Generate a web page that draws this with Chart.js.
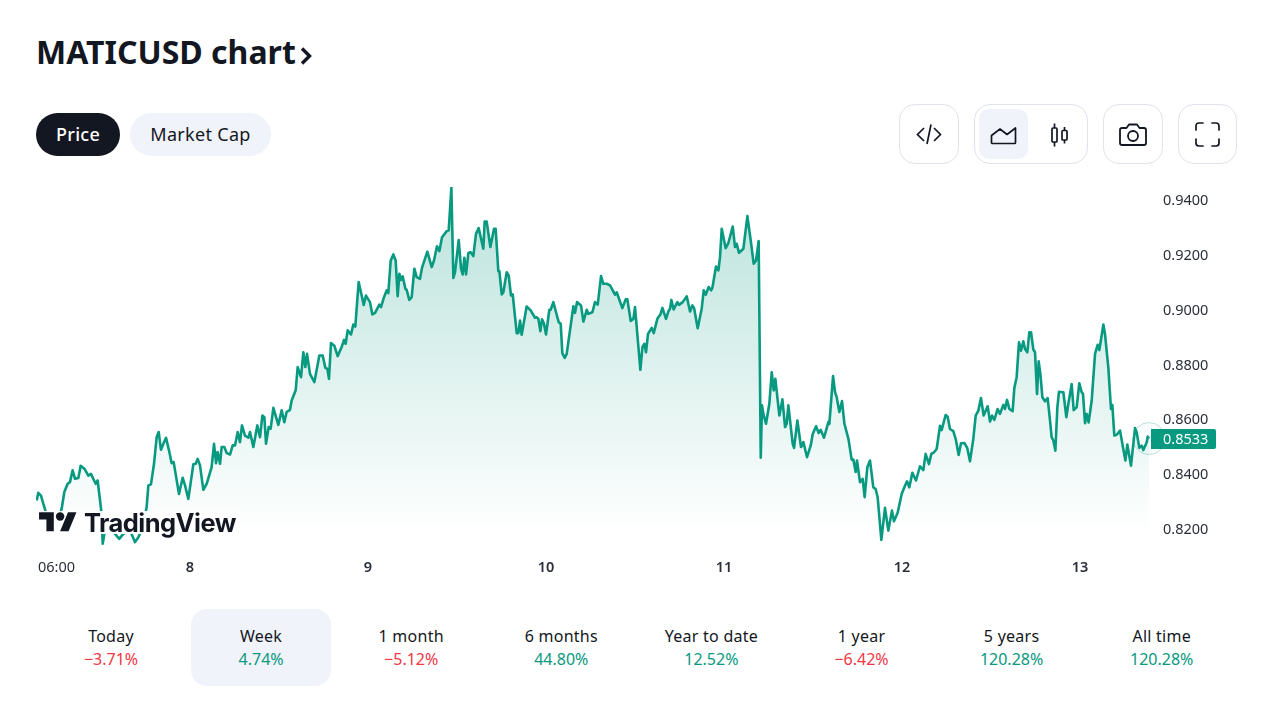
<!DOCTYPE html>
<html><head><meta charset="utf-8">
<script src="https://cdn.jsdelivr.net/npm/chart.js@4/dist/chart.umd.min.js"></script>
<style>
html,body{margin:0;padding:0;background:#fff;width:1280px;height:720px;overflow:hidden;font-family:"Noto Sans",sans-serif;color:#131722}
.a{position:absolute}
h1{position:absolute;left:36px;top:29px;margin:0;font:700 32px/46px "Noto Sans",sans-serif;letter-spacing:0;white-space:nowrap}
.pill{position:absolute;top:113px;height:43px;border-radius:22px;font-size:18px;line-height:43px;text-align:center;letter-spacing:.3px}
.ib{position:absolute;top:104px;height:58px;border:1px solid #e0e3eb;border-radius:16px;box-sizing:content-box;background:#fff}
svg{position:absolute;overflow:visible}
.cell{position:absolute;top:609px;width:140px;height:77px;text-align:center;border-radius:16px;font-size:16px}
.cell .l{position:absolute;left:-10px;right:-10px;top:15px;line-height:24px;letter-spacing:.25px}
.cell .v{position:absolute;left:0;right:0;top:38px;line-height:24px}
.up{color:#089981}.dn{color:#f23645}
#logo{position:absolute;left:37px;top:511px;width:201px;height:23px;background:rgba(255,255,255,.95)}
#logot{position:absolute;left:47px;top:-3px;font:700 25.5px/30px Inter,sans-serif;letter-spacing:-.55px;color:#131722}
canvas{position:absolute;left:0;top:170px}
</style></head><body>
<h1>MATICUSD chart</h1>
<svg style="left:299px;top:46px" width="14" height="20"><path d="M3 2.5 L10.5 10 L3 17.5" fill="none" stroke="#131722" stroke-width="3.4"/></svg>
<div class="pill" style="left:36px;width:84px;background:#131722;color:#fff;font-weight:500">Price</div>
<div class="pill" style="left:130px;width:141px;background:#f0f3fa">Market Cap</div>

<div class="ib" style="left:899px;width:58px"></div>
<svg style="left:916px;top:122px" width="26" height="24" fill="none" stroke="#131722" stroke-width="1.7"><path d="M8 6 L1.5 12.5 L8 19M18 6 L24.5 12.5 L18 19M15 2.5 L11 22"/></svg>
<div class="ib" style="left:974px;width:112px"></div>
<div class="a" style="left:979px;top:109px;width:49px;height:50px;border-radius:10px;background:#f0f3fa"></div>
<svg style="left:990px;top:126px" width="28" height="20" fill="none" stroke="#131722" stroke-width="1.7" stroke-linejoin="round"><path d="M1.5 16.5 V9.5 L10 3 L17 8.5 L25.5 2 V16.5 Q25.5 17.5 24.5 17.5 H2.5 Q1.5 17.5 1.5 16.5Z"/></svg>
<svg style="left:1050px;top:122px" width="20" height="26" fill="none" stroke="#131722" stroke-width="1.7"><rect x="2" y="6" width="5" height="14" rx="1"/><path d="M4.5 1.5V6M4.5 20V24.5M14.5 5V8.5M14.5 18V21.5"/><rect x="12" y="8.5" width="5" height="9.5" rx="1"/></svg>
<div class="ib" style="left:1103px;width:58px"></div>
<svg style="left:1118px;top:123px" width="30" height="24" fill="none" stroke="#131722" stroke-width="1.8" stroke-linejoin="round"><path d="M2 7 Q2 5 4 5 H8.5 L11 1.5 H19 L21.5 5 H26 Q28 5 28 7 V20 Q28 22 26 22 H4 Q2 22 2 20Z"/><circle cx="15" cy="13" r="5"/></svg>
<div class="ib" style="left:1178px;width:57px"></div>
<svg style="left:1195px;top:122px" width="26" height="26" fill="none" stroke="#131722" stroke-width="1.7" stroke-linecap="round"><path d="M1 8 V4 Q1 1 4 1 H8M17 1 H21 Q24 1 24 4 V8M1 17 V21 Q1 24 4 24 H8M17 24 H21 Q24 24 24 21 V17"/></svg>

<canvas id="c" width="1280" height="420" style="width:1280px;height:420px"></canvas>
<div id="logo"><svg style="left:1px;top:-3.5px" width="40" height="29.5" viewBox="0 0 36 28"><path fill="#131722" d="M14 22H7V11H0V4h14v18zM28 22h-8l7.5-18h8L28 22z"/><circle fill="#131722" cx="20" cy="8" r="4"/></svg><div id="logot">TradingView</div></div>
<div id="cells"></div>
<script>
const hours=[-20.67,-20.45,-20.09,-19.77,-19.5,-18.87,-17.75,-17.3,-16.94,-16.49,-16.18,-15.82,-15.5,-15.05,-14.74,-14.24,-13.7,-13.35,-12.72,-12.45,-11.91,-11.77,-11.46,-10.8,-10.11,-9.53,-8.99,-8.09,-7.41,-6.96,-6.38,-5.84,-5.61,-5.26,-4.85,-4.49,-4.22,-3.91,-3.59,-3.23,-2.83,-2.47,-2.2,-1.48,-0.99,-0.67,-0.22,0.45,0.77,1.04,1.35,1.8,2.25,2.92,3.24,3.51,3.73,4.05,4.27,4.63,4.95,5.4,5.76,6.07,6.43,6.74,7.01,7.42,7.87,8.09,8.54,9.08,9.44,9.76,10.03,10.25,10.61,10.88,11.24,11.91,12.36,12.72,13.03,13.48,13.71,14.25,14.52,14.97,15.28,15.55,15.78,16.18,16.77,17.44,17.89,18.25,18.52,18.74,19.01,19.46,19.91,20.45,20.77,20.99,21.26,21.71,22.02,22.29,22.47,22.74,23.15,23.42,23.73,24.27,24.59,24.95,25.53,25.75,26.16,26.52,26.74,27.06,27.42,27.73,28,28.23,28.45,28.68,29.04,29.21,29.57,29.89,30.25,30.56,31.01,31.28,32,32.59,32.9,33.3,33.62,33.98,34.61,34.88,35.24,35.51,35.73,36.23,36.54,36.77,36.99,37.22,37.53,37.85,38.2,38.56,38.92,39.55,39.73,40,40.5,40.99,41.21,41.57,41.71,42.03,42.25,42.7,42.97,43.28,43.51,44.05,44.27,44.5,44.72,45.39,45.93,46.52,46.74,46.97,47.24,47.46,47.73,48,48.45,48.63,48.99,49.35,49.71,49.98,50.2,50.52,50.79,51.69,51.91,52.18,52.72,53.04,53.49,53.71,54.25,54.61,54.97,55.42,55.73,56.18,56.63,57.3,57.53,58.29,58.74,58.97,59.42,59.78,60,60.72,61,61.26,61.48,61.75,62.25,62.52,63.01,63.46,63.69,64.18,64.5,64.72,64.9,65.21,65.71,65.93,66.43,66.97,67.42,67.73,67.96,68.45,68.99,69.26,69.53,69.93,70.25,70.43,70.92,71.24,71.46,71.69,72.22,72.58,73.17,73.48,73.71,74.02,74.61,75.15,75.6,76,76.32,76.67,76.95,77.12,77.3,77.66,78.11,78.43,78.7,78.92,79.46,79.87,80.23,80.45,80.67,81.26,81.44,81.89,82.38,82.7,83.19,83.69,83.96,84.41,84.76,85.03,85.48,86.07,86.2,86.7,86.97,87.19,87.55,87.91,88.23,88.77,89.21,89.44,89.75,89.93,90.33,90.69,90.96,91.32,91.68,92.13,92.44,92.71,93.21,93.7,94.15,94.64,94.91,95.41,95.95,96.4,96.67,96.98,97.39,97.88,98.42,98.87,99.18,99.63,99.95,100.31,100.67,101.12,101.34,101.88,102.15,102.46,102.91,103.23,103.63,103.95,104.4,104.8,105.16,105.61,105.93,106.29,106.64,107,107.54,107.86,108.13,108.44,108.89,109.2,109.66,109.88,110.15,110.47,110.91,111.14,111.45,111.77,112.04,112.35,112.58,112.89,113.16,113.39,113.7,113.93,114.2,114.42,114.65,114.92,115.27,115.63,115.95,116.17,116.4,116.67,116.94,117.16,117.75,118.15,118.42,118.87,119.14,119.54,119.9,120.22,120.4,120.67,120.89,121.16,121.57,122.02,122.37,122.6,123.14,123.36,123.81,124.17,124.35,124.62,124.94,125.39,125.75,126.11,126.37,126.87,127.41,127.63,127.99,128.31,128.53,128.98,129.12,129.3];
const prices=[.8307,.8335,.8325,.8295,.8271,.8222,.8234,.8277,.8338,.8368,.8374,.8417,.8386,.8389,.8434,.8423,.8398,.8404,.8368,.838,.8258,.8149,.8198,.8204,.8185,.8167,.8185,.8198,.8155,.8173,.821,.8283,.8362,.8366,.8441,.8538,.8557,.8492,.8514,.8536,.849,.8443,.8447,.8331,.839,.8362,.8313,.8439,.8441,.8459,.8435,.8346,.8368,.8429,.8514,.8443,.8484,.8441,.8502,.8502,.848,.8475,.8508,.8508,.8557,.852,.8581,.8544,.8536,.8557,.8502,.8581,.8538,.8617,.8611,.8514,.8575,.8569,.8645,.8583,.8636,.8593,.863,.8638,.8672,.8709,.8794,.8757,.8848,.8794,.8842,.8769,.8739,.8836,.8836,.8791,.8788,.8751,.8882,.8872,.8834,.8867,.8893,.8879,.8928,.8913,.8949,.8942,.9007,.9104,.9055,.9021,.9055,.9031,.8986,.8992,.9022,.9013,.9049,.9074,.9064,.9183,.9205,.9183,.9053,.9134,.9112,.9125,.908,.9076,.9039,.9049,.9153,.9122,.9116,.9156,.9215,.9159,.9183,.9235,.9217,.9268,.929,.9293,.9448,.9119,.914,.9258,.9153,.9132,.9193,.9132,.921,.9213,.9199,.928,.9301,.9226,.9325,.9325,.9232,.9299,.9299,.9144,.9144,.9059,.9067,.914,.9128,.9055,.9059,.8918,.8918,.8964,.8912,.9015,.9001,.8974,.8976,.897,.8925,.8968,.8952,.8913,.9003,.9003,.9031,.8994,.8958,.8952,.8845,.8827,.8842,.9016,.8992,.9031,.9019,.896,.9003,.8988,.8994,.9031,.9022,.9126,.9098,.9098,.9092,.9058,.9067,.9009,.9041,.9041,.8962,.897,.9013,.8784,.8867,.8879,.8848,.8915,.8937,.8918,.897,.8988,.901,.897,.8997,.9007,.9039,.9004,.9031,.9021,.9031,.9052,.8997,.9019,.901,.8936,.9007,.9074,.9058,.9086,.9074,.9083,.9161,.9147,.9195,.9299,.9228,.9246,.9307,.9232,.9244,.9211,.9226,.9345,.9256,.9171,.9183,.9254,.8463,.8654,.8623,.8587,.866,.8775,.8709,.8751,.8617,.8676,.8575,.8587,.8654,.8514,.8499,.8599,.8502,.852,.8465,.8508,.855,.8578,.8553,.8565,.8536,.8593,.8587,.8761,.8702,.8684,.863,.867,.8587,.8532,.8456,.8456,.8411,.8453,.8374,.8386,.8319,.8428,.8453,.8355,.8349,.8319,.8163,.828,.8197,.827,.8231,.8262,.8331,.8361,.8377,.8355,.8408,.838,.8432,.8418,.8477,.844,.8477,.8483,.8495,.858,.8564,.8619,.8613,.8568,.856,.8532,.8473,.8516,.8517,.8498,.845,.8532,.8617,.8635,.8681,.8617,.8651,.8595,.8617,.8601,.8641,.8623,.8656,.8641,.8674,.8641,.8633,.8718,.8757,.8884,.8854,.8888,.886,.8848,.8921,.8921,.8858,.8848,.8696,.8815,.8769,.8684,.8669,.8681,.8599,.8538,.8526,.8489,.8647,.8704,.8702,.8611,.8659,.8732,.8637,.8647,.8735,.8702,.8696,.8589,.8623,.8592,.8672,.8842,.8875,.8856,.8949,.8915,.8793,.8641,.8656,.8544,.8547,.8562,.8507,.8453,.8511,.8434,.8571,.8556,.8499,.8507,.8491,.8519,.854,.8533];
const priceTicks=[.82,.84,.86,.88,.9,.92,.94];
const timeTicks=[-18,0,24,48,72,96,120];
const timeLabels=['06:00','8','9','10','11','12','13'];
const periodNames=['Today','Week','1 month','6 months','Year to date','1 year','5 years','All time'];
const periodChanges=['−3.71%','4.74%','−5.12%','44.80%','12.52%','−6.42%','120.28%','120.28%'];
const lastIndex=hours.length-1;
const series=hours.map((h,i)=>({x:h,y:prices[i]}));
const green='#089981';

const cellsEl=document.getElementById('cells');
periodNames.forEach((n,i)=>{
  const d=document.createElement('div');d.className='cell';
  d.style.left=(41+i*150.1)+'px';
  if(i===1)d.style.background='#f0f3fa';
  d.innerHTML='<div class="l">'+n+'</div><div class="v '+(periodChanges[i][0]==='−'?'dn':'up')+'">'+periodChanges[i]+'</div>';
  cellsEl.appendChild(d);
});

const priceTag={id:'priceTag',afterDatasetsDraw(chart){
  const c=chart.ctx,ys=chart.scales.y,y=Math.round(ys.getPixelForValue(prices[lastIndex]));
  const left=chart.chartArea.right+1;
  c.save();c.fillStyle=green;c.beginPath();c.roundRect(left,y-10,65,20,[0,2,2,0]);c.fill();
  c.fillStyle='#fff';c.font='14.5px "Noto Sans"';c.textAlign='left';c.textBaseline='middle';
  c.fillText(prices[lastIndex].toFixed(4),chart.chartArea.right+13,y+0.5);c.restore();
}};
new Chart(document.getElementById('c'),{
 type:'line',
 data:{datasets:[
  {data:series,borderColor:green,borderWidth:2.6,borderJoinStyle:'round',pointRadius:0,tension:0,fill:'start',
   backgroundColor(ctx){const a=ctx.chart.chartArea;if(!a)return 'transparent';
     const g=ctx.chart.ctx.createLinearGradient(0,a.top,0,a.bottom-14);
     g.addColorStop(0,'rgba(8,153,129,.28)');g.addColorStop(1,'rgba(8,153,129,0)');return g;}},
  {data:[series[lastIndex]],showLine:false,clip:false,pointRadius:16,pointHoverRadius:16,pointBorderWidth:1,pointBorderColor:'rgba(8,153,129,.28)',pointBackgroundColor:'rgba(8,153,129,.02)'}
 ]},
 options:{responsive:false,animation:false,devicePixelRatio:1,events:[],
  layout:{padding:{left:36,top:5,right:0,bottom:0}},
  plugins:{legend:{display:false},tooltip:{enabled:false}},
  scales:{
   x:{type:'linear',min:-20.76,max:129.43,grid:{display:false},border:{display:false},
      afterBuildTicks(a){a.ticks=timeTicks.map(v=>({value:v}));},
      afterFit(a){a.height=42;a.paddingLeft=0;a.paddingRight=0;},
      ticks:{autoSkip:false,maxRotation:0,padding:3,color:'#2a2e39',
        font:ctx=>({family:'"Noto Sans"',size:14.5,weight:ctx.index===0?'normal':'600'}),
        callback:(v,i)=>timeLabels[i]}},
   y:{type:'linear',position:'right',min:.81336,max:.94512,grid:{display:false},border:{display:false},
      afterBuildTicks(a){a.ticks=priceTicks.map(v=>({value:v}));},
      afterFit(a){a.width=130;a.paddingTop=0;a.paddingBottom=0;},
      ticks:{autoSkip:false,padding:5,color:'#2a2e39',font:{family:'"Noto Sans"',size:14.5},
        callback:v=>v.toFixed(4)}}
  }},
 plugins:[priceTag]
});
</script>
</body></html>
